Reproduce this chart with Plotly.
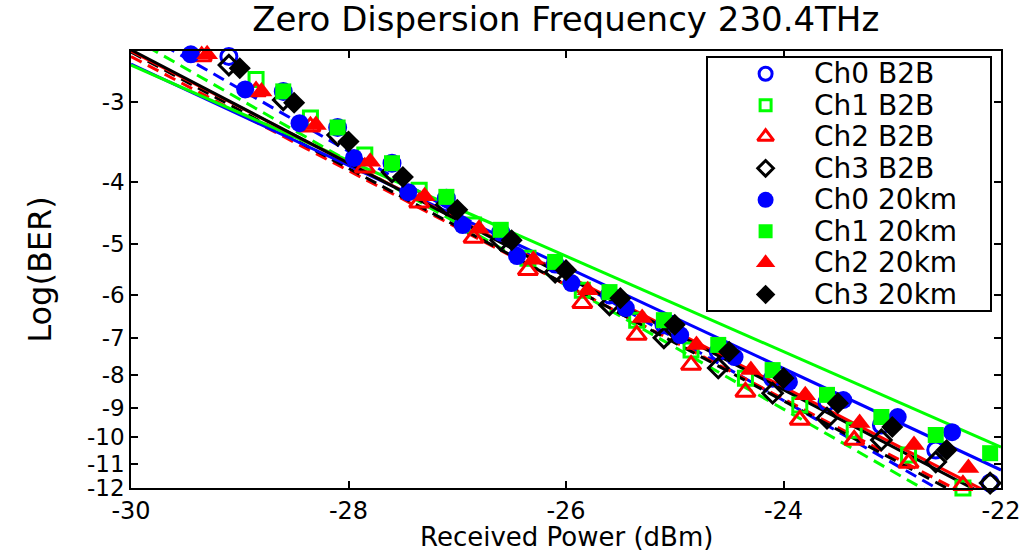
import math
import plotly.graph_objects as go

# ---- measured BER curves (log10 BER vs received power) ----
ch0_b2b_x = [-29.1, -28.6, -28.1, -27.6, -27.1, -26.6, -26.1, -25.6, -25.1, -24.6, -24.1, -23.6, -23.1, -22.6, -22.1]
ch0_b2b_y = [-2.55, -2.89, -3.29, -3.74, -4.24, -4.79, -5.37, -6.00, -6.68, -7.36, -8.09, -8.81, -9.57, -10.47, -11.79]

ch1_b2b_x = [-28.85, -28.35, -27.85, -27.35, -26.85, -26.35, -25.85, -25.35, -24.85, -24.35, -23.85, -23.35, -22.85, -22.35]
ch1_b2b_y = [-2.77, -3.18, -3.63, -4.12, -4.67, -5.26, -5.90, -6.57, -7.31, -8.09, -8.91, -9.75, -10.66, -12.0]

ch2_b2b_x = [-29.35, -28.85, -28.35, -27.85, -27.35, -26.85, -26.35, -25.85, -25.35, -24.85, -24.35, -23.85, -23.35, -22.85, -22.35]
ch2_b2b_y = [-2.55, -2.89, -3.28, -3.80, -4.31, -4.89, -5.49, -6.18, -6.93, -7.72, -8.50, -9.40, -10.10, -10.97, -11.88]

ch3_b2b_x = [-29.1, -28.6, -28.1, -27.6, -27.1, -26.6, -26.1, -25.6, -25.1, -24.6, -24.1, -23.6, -23.1, -22.6, -22.1]
ch3_b2b_y = [-2.63, -2.98, -3.38, -3.86, -4.34, -4.93, -5.53, -6.22, -7.00, -7.80, -8.54, -9.34, -10.10, -10.93, -11.79]

ch0_20km_x = [-29.45, -28.95, -28.45, -27.95, -27.45, -26.95, -26.45, -25.95, -25.45, -24.95, -24.45, -23.95, -23.45, -22.95, -22.45]
ch0_20km_y = [-2.53, -2.87, -3.24, -3.67, -4.15, -4.67, -5.22, -5.75, -6.29, -6.93, -7.50, -8.20, -8.75, -9.30, -9.82]

ch1_20km_x = [-28.6, -28.1, -27.6, -27.1, -26.6, -26.1, -25.6, -25.1, -24.6, -24.1, -23.6, -23.1, -22.6, -22.1]
ch1_20km_y = [-2.89, -3.29, -3.74, -4.22, -4.75, -5.33, -5.94, -6.57, -7.18, -7.86, -8.59, -9.30, -9.92, -10.59]

ch2_20km_x = [-29.3, -28.8, -28.3, -27.8, -27.3, -26.8, -26.3, -25.8, -25.3, -24.8, -24.3, -23.8, -23.3, -22.8, -22.3]
ch2_20km_y = [-2.53, -2.89, -3.26, -3.72, -4.21, -4.73, -5.29, -5.90, -6.52, -7.18, -7.86, -8.60, -9.50, -10.28, -11.17]

ch3_20km_x = [-29.0, -28.5, -28.0, -27.5, -27.0, -26.5, -26.0, -25.5, -25.0, -24.5, -24.0, -23.5, -23.0, -22.5]
ch3_20km_y = [-2.66, -3.01, -3.46, -3.93, -4.42, -4.93, -5.49, -6.07, -6.68, -7.36, -8.09, -8.85, -9.64, -10.47]

# ---- linear fits, evaluated at the ends of the power range ----
fit_x = [-30, -22]
fit_ch0_b2b = [-2.29, -13.71]
fit_ch1_b2b = [-2.38, -14.11]
fit_ch2_b2b = [-2.55, -13.13]
fit_ch3_b2b = [-2.51, -13.32]
fit_ch0_20km = [-2.62, -11.25]
fit_ch1_20km = [-2.63, -10.36]
fit_ch2_20km = [-2.50, -12.49]
fit_ch3_20km = [-2.49, -12.67]

y_ticks = [-3, -4, -5, -6, -7, -8, -9, -10, -11, -12]
x_ticks = [-30, -28, -26, -24, -22]

names = ["Ch0 B2B", "Ch1 B2B", "Ch2 B2B", "Ch3 B2B",
         "Ch0 20km", "Ch1 20km", "Ch2 20km", "Ch3 20km"]

BLUE, GREEN, RED, BLACK = "#0000ff", "#00ff00", "#ff0000", "#000000"
FONT = "DejaVu Sans"
DASH = "12px,7px"


def q(vals):
    # the y axis is log10(-log10 BER); plot -log10(BER) on a log axis
    return [-v for v in vals]


series = [
    (ch0_b2b_x, ch0_b2b_y, fit_ch0_b2b, BLUE, "circle-open", DASH),
    (ch1_b2b_x, ch1_b2b_y, fit_ch1_b2b, GREEN, "square-open", DASH),
    (ch2_b2b_x, ch2_b2b_y, fit_ch2_b2b, RED, "triangle-up-open", DASH),
    (ch3_b2b_x, ch3_b2b_y, fit_ch3_b2b, BLACK, "diamond-open", DASH),
    (ch0_20km_x, ch0_20km_y, fit_ch0_20km, BLUE, "circle", "solid"),
    (ch1_20km_x, ch1_20km_y, fit_ch1_20km, GREEN, "square", "solid"),
    (ch2_20km_x, ch2_20km_y, fit_ch2_20km, RED, "triangle-up", "solid"),
    (ch3_20km_x, ch3_20km_y, fit_ch3_20km, BLACK, "diamond", "solid"),
]

msize = {"circle": 18, "square": 16, "triangle-up": 19, "diamond": 17}

fig = go.Figure()

# fitted lines
for (xs, ys, fit, col, sym, dash) in series:
    fig.add_trace(go.Scatter(
        x=fit_x, y=q(fit), mode="lines",
        line=dict(color=col, width=3, dash=dash),
        showlegend=False, hoverinfo="skip"))

# measured points
for (xs, ys, fit, col, sym, dash), name in zip(series, names):
    base = sym.replace("-open", "")
    is_open = sym.endswith("-open")
    fig.add_trace(go.Scatter(
        x=xs, y=q(ys), mode="markers", name=name,
        marker=dict(symbol=sym, size=msize[base] - (2 if is_open else 0),
                    color=col, line=dict(color=col, width=3 if is_open else 0)),
        cliponaxis=False, showlegend=False))

# legend drawn in its own small axes
rows = list(range(1, len(names) + 1))
for (xs, ys, fit, col, sym, dash), name, r in zip(series, names, rows):
    base = sym.replace("-open", "")
    is_open = sym.endswith("-open")
    fig.add_trace(go.Scatter(
        x=[0.205], y=[r], xaxis="x2", yaxis="y2", mode="markers",
        marker=dict(symbol=sym, size=(msize[base] - 5) if is_open else msize[base] - 2,
                    color=col, line=dict(color=col, width=3 if is_open else 0)),
        showlegend=False, hoverinfo="skip"))
    fig.add_annotation(x=0.37, y=r, xref="x2", yref="y2", text=name,
                       showarrow=False, xanchor="left", yanchor="middle",
                       font=dict(family=FONT, size=28, color="black"))

# x-axis title placed below the tick labels
fig.add_annotation(x=0.5, y=-0.113, xref="paper", yref="paper",
                   text="Received Power (dBm)", showarrow=False,
                   xanchor="center", yanchor="middle", borderpad=0,
                   font=dict(family=FONT, size=26, color="black"))

fig.update_layout(
    width=1023, height=550,
    margin=dict(l=131, r=22, t=51, b=62, autoexpand=False),
    paper_bgcolor="white", plot_bgcolor="white",
    font=dict(family=FONT, color="black"),
    title=dict(text="Zero Dispersion Frequency 230.4THz",
               x=0.553, xanchor="center", y=0.965, yanchor="middle",
               font=dict(family=FONT, size=34, color="black")),
    xaxis=dict(range=[-30, -22], tickvals=x_ticks, ticktext=[str(t) for t in x_ticks],
               ticks="inside", ticklen=7, tickwidth=1.5, tickcolor="black",
               showline=True, linecolor="black", linewidth=1.5, mirror="ticks",
               showgrid=False, zeroline=False, ticklabeloverflow="allow",
               automargin=False, ticklabelstandoff=0,
               tickfont=dict(family=FONT, size=24)),
    yaxis=dict(type="log", range=[math.log10(12), math.log10(2.5)],
               tickvals=q(y_ticks), ticktext=[str(t) for t in y_ticks],
               ticks="inside", ticklen=7, tickwidth=1.5, tickcolor="black",
               showline=True, linecolor="black", linewidth=1.5, mirror="ticks",
               showgrid=False, zeroline=False, automargin=False,
               tickfont=dict(family=FONT, size=23),
               title=dict(text="Log(BER)", standoff=26,
                          font=dict(family=FONT, size=32))),
    xaxis2=dict(domain=[0.663, 0.987], anchor="y2", range=[0, 1],
                showline=True, linecolor="black", linewidth=1.5, mirror=True,
                showticklabels=False, ticks="", showgrid=False, zeroline=False,
                fixedrange=True),
    yaxis2=dict(domain=[0.407, 0.984], anchor="x2", range=[8.5, 0.5],
                showline=True, linecolor="black", linewidth=1.5, mirror=True,
                showticklabels=False, ticks="", showgrid=False, zeroline=False,
                fixedrange=True),
)

fig.write_html("out.html")
